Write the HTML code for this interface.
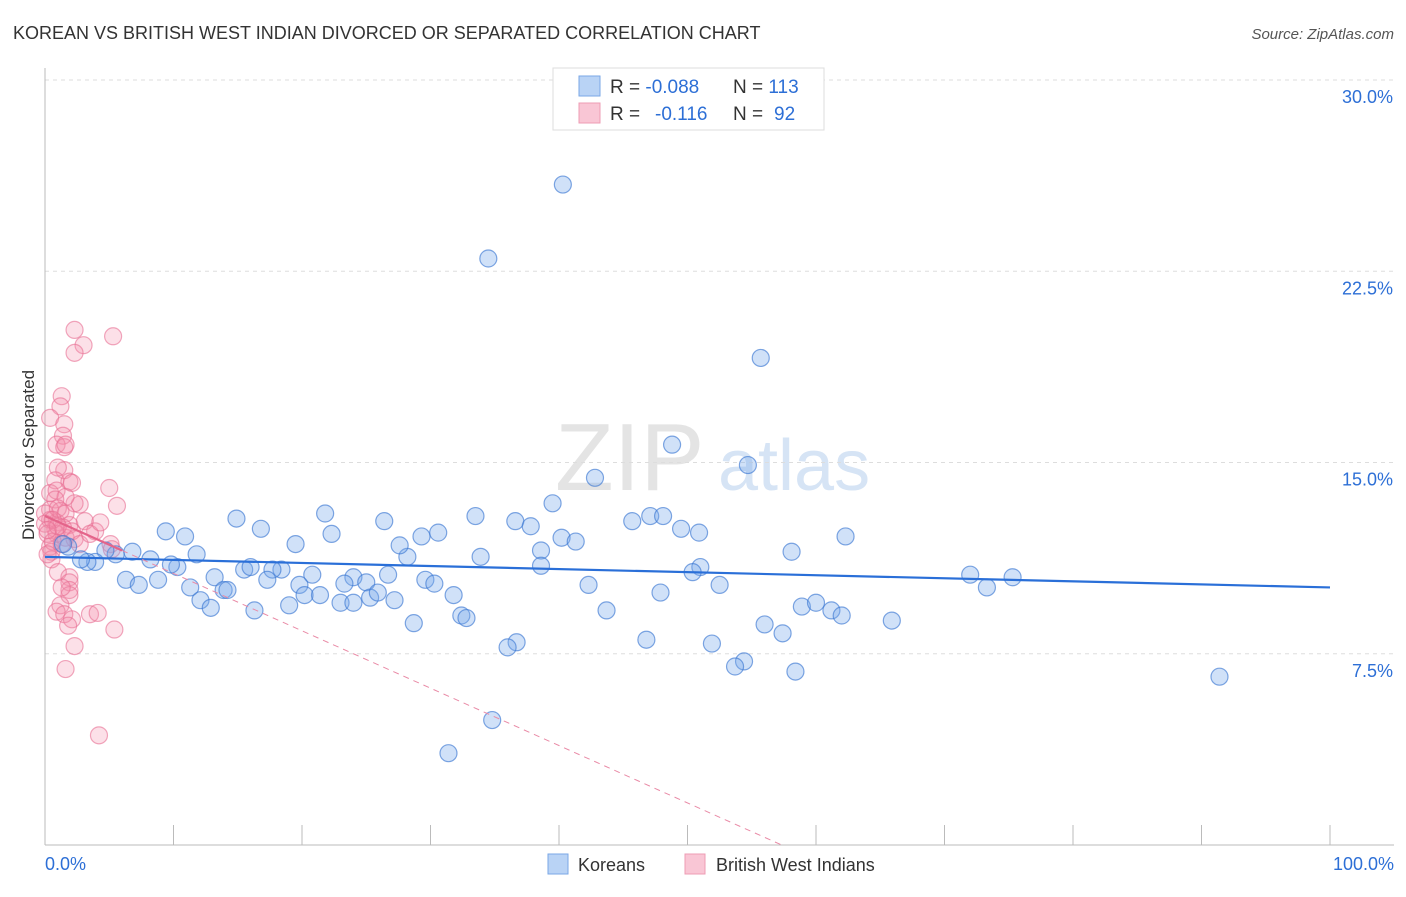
<!DOCTYPE html>
<html><head><meta charset="utf-8"><style>
body{margin:0;background:#fff;font-family:"Liberation Sans",sans-serif;}
svg text{font-family:"Liberation Sans",sans-serif;}
</style></head><body>
<svg id="chart" width="1406" height="892" viewBox="0 0 1406 892" xmlns="http://www.w3.org/2000/svg">
<text x="13" y="39" font-size="18" fill="#333">KOREAN VS BRITISH WEST INDIAN DIVORCED OR SEPARATED CORRELATION CHART</text>
<text x="1394" y="39" font-size="15" font-style="italic" fill="#555" text-anchor="end">Source: ZipAtlas.com</text>
<text x="555" y="490" font-size="96" fill="#e4e4e4" font-family="Liberation Serif">ZIP</text>
<text x="718" y="490" font-size="72" fill="#d6e4f5">atlas</text>
<g id="grid"></g>
<g id="axes"></g>
<g id="pts"></g>
<g id="trends"></g>
<text transform="translate(34,455) rotate(-90)" font-size="17" fill="#333" text-anchor="middle">Divorced or Separated</text>
<g>
<rect x="553" y="68" width="271" height="62" fill="#fff" stroke="#ddd"/>
<rect x="579" y="76" width="21" height="20" fill="#b9d3f5" stroke="#7aa7e6"/>
<rect x="579" y="103" width="21" height="20" fill="#f9c6d5" stroke="#ee9cb4"/>
<text x="610" y="93" font-size="19" fill="#333">R = <tspan fill="#2d6fd6">-0.088</tspan></text>
<text x="733" y="93" font-size="19" fill="#333">N = <tspan fill="#2d6fd6">113</tspan></text>
<text x="610" y="120" font-size="19" fill="#333">R = </text>
<text x="655" y="120" font-size="19" fill="#2d6fd6">-0.116</text>
<text x="733" y="120" font-size="19" fill="#333">N = </text>
<text x="774" y="120" font-size="19" fill="#2d6fd6">92</text>
</g>
<g>
<rect x="548" y="854" width="20" height="20" fill="#b9d3f5" stroke="#7aa7e6"/>
<text x="578" y="871" font-size="18" fill="#333">Koreans</text>
<rect x="685" y="854" width="20" height="20" fill="#f9c6d5" stroke="#ee9cb4"/>
<text x="716" y="871" font-size="18" fill="#333">British West Indians</text>
</g>
</svg>
<script>
const yTicks=[7.5,15,22.5,30];
const yTickLabels=["7.5%","15.0%","22.5%","30.0%"];
const xTickLabels=["0.0%","100.0%"];
const koreanX=[40.3,34.5,55.7,48.8,54.7,42.8,39.5,33.5,26.4,21.8,14.9,16.8,9.4,10.9,22.3,19.5,36.6,37.8,29.3,30.6,40.2,41.3,45.7,47.1,48.1,49.5,50.9,62.3,58.1,51.0,50.4,38.6,38.6,33.9,28.2,27.6,11.8,8.2,6.8,5.5,4.7,3.9,3.3,2.8,1.8,1.4,10.3,9.8,13.2,15.5,16.0,18.4,17.7,20.8,19.8,17.3,24.0,23.3,25.0,26.7,29.6,30.3,6.3,7.3,8.8,11.3,13.9,14.2,12.1,12.9,16.3,19.0,20.2,21.4,23.0,24.0,25.3,25.9,27.2,31.8,32.4,32.8,42.3,43.7,47.9,52.5,72.0,73.3,75.3,58.9,60.0,61.2,62.0,65.9,28.7,56.0,57.4,36.7,36.0,46.8,51.9,54.4,53.7,58.4,91.4,34.8,31.4];
const koreanY=[25.9,23.0,19.1,15.7,14.9,14.4,13.4,12.9,12.7,13.0,12.8,12.4,12.3,12.1,12.2,11.8,12.7,12.5,12.1,12.25,12.05,11.9,12.7,12.9,12.9,12.4,12.25,12.1,11.5,10.9,10.7,11.55,10.95,11.3,11.3,11.75,11.4,11.2,11.5,11.4,11.55,11.1,11.1,11.2,11.7,11.8,10.9,11.0,10.5,10.8,10.9,10.8,10.8,10.6,10.2,10.4,10.5,10.25,10.3,10.6,10.4,10.25,10.4,10.2,10.4,10.1,10.0,10.0,9.6,9.3,9.2,9.4,9.8,9.8,9.5,9.5,9.7,9.9,9.6,9.8,9.0,8.9,10.2,9.2,9.9,10.2,10.6,10.1,10.5,9.35,9.5,9.2,9.0,8.8,8.7,8.65,8.3,7.95,7.75,8.05,7.9,7.2,7.0,6.8,6.6,4.9,3.6];
const bwiX=[2.3,3.0,2.3,5.3,1.3,1.2,0.4,1.5,1.4,0.9,1.5,1.6,1.5,1.0,0.8,1.9,0.4,0.9,2.1,5.0,5.6,2.7,2.3,1.6,0.8,0.4,1.2,0.4,0.9,0.8,1.9,3.1,3.9,0.9,1.6,2.3,0.4,0.5,0.5,5.1,5.2,1.0,1.9,1.9,1.9,1.9,1.3,1.2,0.9,1.5,2.1,3.5,4.1,1.8,5.4,2.3,1.6,4.2,0,0,0.2,0.6,1.3,0.2,1.0,1.6,1.4,2.1,2.7,3.5,4.3,0.6,1.0,0.2];
const bwiY=[20.2,19.6,19.3,19.95,17.6,17.2,16.75,16.5,16.05,15.7,15.6,15.7,14.7,14.8,14.3,14.25,13.8,13.9,14.2,14.0,13.3,13.35,13.4,13.65,13.55,13.15,13.1,12.75,12.65,12.4,12.55,12.7,12.3,12.2,12.05,12.0,11.7,11.5,11.2,11.8,11.6,10.7,10.5,10.3,10.0,9.8,10.1,9.4,9.15,9.05,8.85,9.05,9.1,8.6,8.45,7.8,6.9,4.3,13.0,12.6,12.2,11.9,11.8,11.4,13.2,13.0,12.45,12.3,11.8,12.2,12.65,12.75,12.5,12.35];
const koreanTrend=[11.3,10.1];
const bwiTrend=[12.9,-0.225];
const NS="http://www.w3.org/2000/svg";
const X0=45,X1=1330,Y0=845,PY=25.5;
function sx(v){return X0+(X1-X0)*v/100;}
function sy(v){return Y0-v*PY;}
function mk(tag,attrs,parent){const e=document.createElementNS(NS,tag);for(const k in attrs)e.setAttribute(k,attrs[k]);parent.appendChild(e);return e;}
const grid=document.getElementById('grid'),axes=document.getElementById('axes'),pts=document.getElementById('pts'),tr=document.getElementById('trends');
yTicks.forEach((t,i)=>{
 const l=mk('line',{x1:X0,x2:1394,y1:sy(t),y2:sy(t),stroke:'#ddd','stroke-dasharray':'4,4'},grid);
 
 
 const tx=mk('text',{x:1393,y:sy(t)+23,'font-size':18,fill:'#2d6fd6','text-anchor':'end'},grid);
 tx.textContent=yTickLabels[i];
 
 
});
const ya=mk('line',{x1:X0,x2:X0,y1:68,y2:Y0,stroke:'#bbb'},axes);


const xa=mk('line',{x1:X0,x2:1394,y1:Y0,y2:Y0,stroke:'#bbb'},axes);


for(let i=1;i<=10;i++){
 const t=mk('line',{x1:sx(i*10),x2:sx(i*10),y1:Y0-20,y2:Y0,stroke:'#bbb'},axes);
 
 
}
[[0,'start',45],[100,'end',1394]].forEach((a,i)=>{
 const t=mk('text',{x:a[2],y:870,'font-size':18,fill:'#2d6fd6','text-anchor':a[1]},axes);
 t.textContent=xTickLabels[i];
 
 
});
bwiX.forEach((x,i)=>{
 const c=mk('circle',{cx:sx(x),cy:sy(bwiY[i]),r:8.5,fill:'rgba(244,143,172,0.28)',stroke:'rgba(232,110,146,0.6)','stroke-width':1.2},pts);
 
 
});
koreanX.forEach((x,i)=>{
 const c=mk('circle',{cx:sx(x),cy:sy(koreanY[i]),r:8.5,fill:'rgba(120,168,235,0.35)',stroke:'rgba(60,120,210,0.65)','stroke-width':1.2},pts);
 
 
});
const kl=mk('line',{x1:sx(0),y1:sy(koreanTrend[0]),x2:sx(100),y2:sy(koreanTrend[1]),stroke:'#2a6fd8','stroke-width':2.2},tr);


const bEnd=-bwiTrend[0]/bwiTrend[1];
const bd=mk('line',{x1:sx(6),y1:sy(bwiTrend[0]+6*bwiTrend[1]),x2:sx(bEnd),y2:sy(0),stroke:'#e98aa6','stroke-width':1,'stroke-dasharray':'6,5'},tr);


const bl=mk('line',{x1:sx(0),y1:sy(bwiTrend[0]),x2:sx(6),y2:sy(bwiTrend[0]+6*bwiTrend[1]),stroke:'#e4648a','stroke-width':2.2},tr);


</script>
</body></html>
